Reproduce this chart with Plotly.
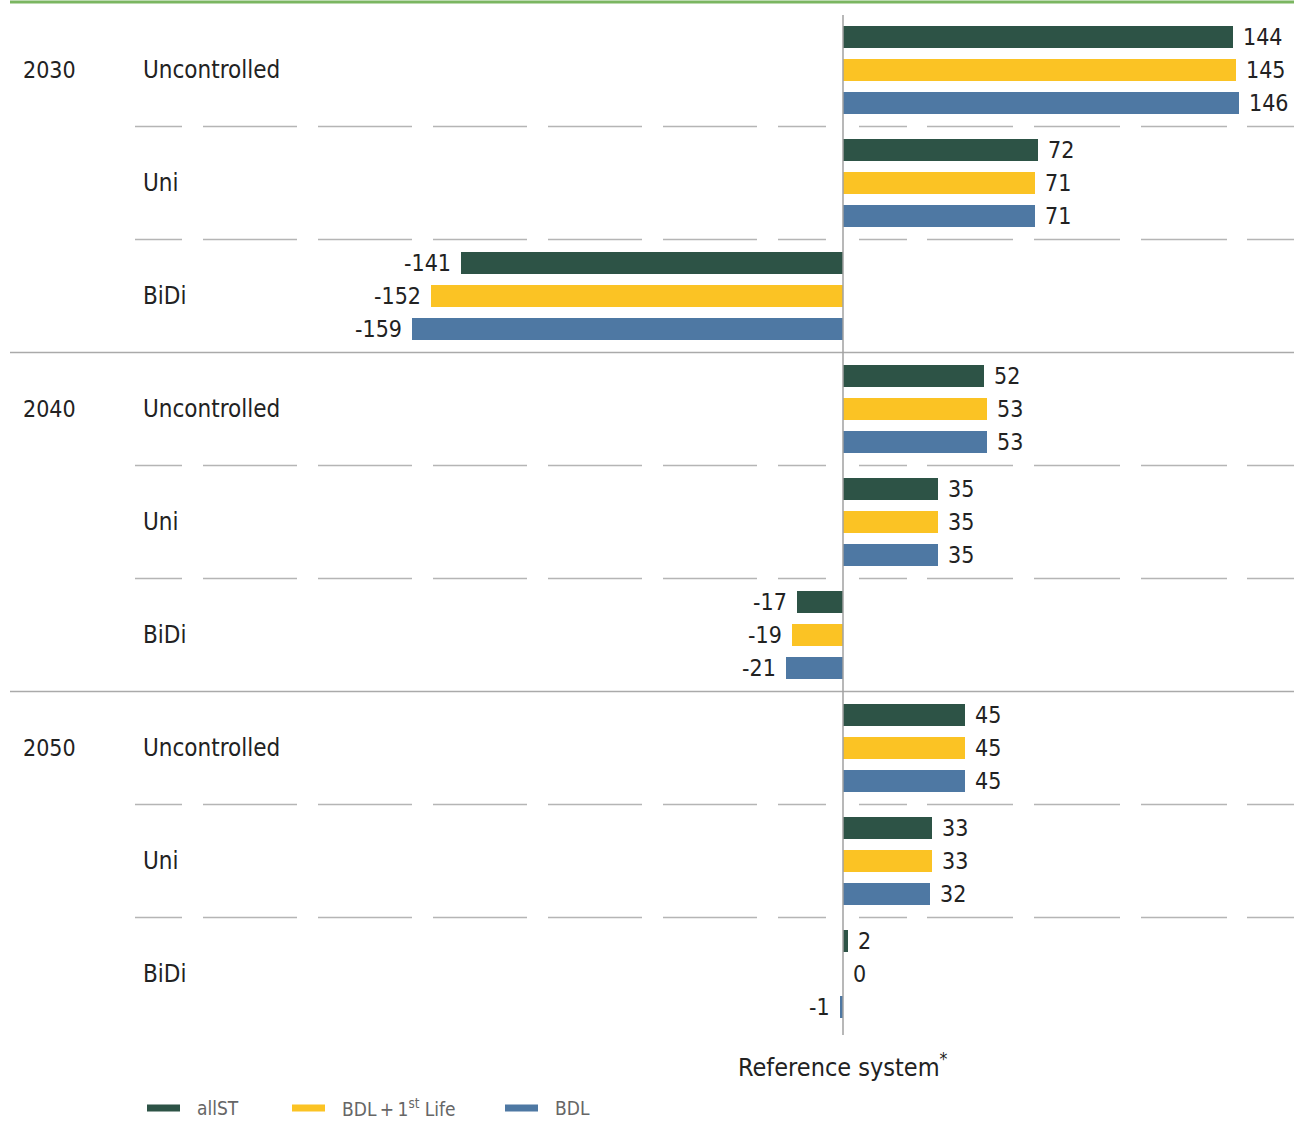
import plotly.graph_objects as go

# ---------------- data ----------------
years = ["2030", "2040", "2050"]
modes = ["Uncontrolled", "Uni", "BiDi"]
series_names = ["allST", "BDL + 1st Life", "BDL"]
allST = [144, 72, -141, 52, 35, -17, 45, 33, 2]
bdl_1st_life = [145, 71, -152, 53, 35, -19, 45, 33, 0]
bdl = [146, 71, -159, 53, 35, -21, 45, 32, -1]
axis_title = "Reference system*"

# ---------------- style ----------------
colors = ["#2d5346", "#fbc324", "#4e78a3"]
W, H = 1294, 1122
ZERO_PX = 843
SCALE = 2.71           # px per unit
GROUP0 = 70            # px centre of first group
GROUP_STEP = 113       # px between groups
BAR_STEP = 33          # px between bars in group
BAR_W = 22
FONT = "DejaVu Sans Condensed, Roboto, sans-serif"
TXT = "#222222"

x_min = -ZERO_PX / SCALE
x_max = (W - ZERO_PX) / SCALE

def px(xpix):
    return xpix / W

fig = go.Figure()
all_series = [allST, bdl_1st_life, bdl]
n_groups = len(years) * len(modes)
annotations = []
for j, (name, vals, col) in enumerate(zip(series_names, all_series, colors)):
    ys = [GROUP0 + g * GROUP_STEP + (j - 1) * BAR_STEP for g in range(n_groups)]
    fig.add_trace(go.Bar(
        x=vals, y=ys, orientation="h", name=name,
        marker=dict(color=col, line=dict(width=0)),
        width=BAR_W, showlegend=False, hoverinfo="x+name",
    ))
    for v, yy in zip(vals, ys):
        neg = v < 0
        annotations.append(dict(
            x=v, y=yy, xref="x", yref="y", text=str(v), showarrow=False,
            xanchor="right" if neg else "left", yanchor="middle",
            xshift=-8 if neg else 8,
            font=dict(family=FONT, size=23, color=TXT),
        ))

# category labels
for yi, yr in enumerate(years):
    for mi, m in enumerate(modes):
        g = yi * len(modes) + mi
        yc = GROUP0 + g * GROUP_STEP
        if mi == 0:
            annotations.append(dict(
                x=px(21), y=yc, xref="paper", yref="y", text=yr, showarrow=False,
                xanchor="left", yanchor="middle",
                font=dict(family=FONT, size=23, color=TXT)))
        annotations.append(dict(
            x=px(141), y=yc, xref="paper", yref="y", text=m, showarrow=False,
            xanchor="left", yanchor="middle",
            font=dict(family=FONT, size=24, color=TXT)))

# axis title
annotations.append(dict(
    x=0, y=1065, xref="x", yref="y", text=axis_title.replace("*", "<sup>*</sup>"),
    showarrow=False, xanchor="center", yanchor="middle",
    font=dict(family=FONT, size=25, color=TXT)))

shapes = []
# top green rule
shapes.append(dict(type="line", xref="paper", yref="y", x0=px(10), x1=1, y0=2, y1=2,
                   line=dict(color="#7bb661", width=3)))
# separators
for g in range(n_groups - 1):
    ysep = GROUP0 + (g + 0.5) * GROUP_STEP
    if (g + 1) % len(modes) == 0:
        shapes.append(dict(type="line", xref="paper", yref="y", x0=px(10), x1=1,
                           y0=ysep, y1=ysep, line=dict(color="#aaaaaa", width=1.5)))
    else:
        shapes.append(dict(type="line", xref="paper", yref="y", x0=px(135), x1=px(826),
                           y0=ysep, y1=ysep,
                           line=dict(color="#b5b5b5", width=1.5,
                                     dash="47px,21px,94px,21px,94px,21px,94px,21px,94px,21px,94px,21px,48px,20px")))
        shapes.append(dict(type="line", xref="paper", yref="y", x0=px(859), x1=1,
                           y0=ysep, y1=ysep,
                           line=dict(color="#b5b5b5", width=1.5,
                                     dash="48px,20px,86px,21px,86px,21px,86px,20px,86px,20px")))
# zero line
shapes.append(dict(type="line", xref="x", yref="y", x0=0, x1=0, y0=15, y1=1035,
                   line=dict(color="#a0a0a0", width=1.5), layer="above"))

# manual legend
legend_x = [147, 292, 505]
legend_labels = ["allST", "BDL\u2009+\u20091<sup>st</sup> Life", "BDL"]
for lx, lab, col in zip(legend_x, legend_labels, colors):
    shapes.append(dict(type="line", xref="paper", yref="y", x0=px(lx), x1=px(lx + 33),
                       y0=1108, y1=1108, line=dict(color=col, width=7)))
    annotations.append(dict(x=px(lx + 48), y=1108, xref="paper", yref="y", text=lab,
                            showarrow=False, xanchor="left", yanchor="middle",
                            font=dict(family=FONT, size=19, color="#666666")))

fig.update_layout(
    width=W, height=H,
    margin=dict(l=0, r=0, t=0, b=0),
    paper_bgcolor="white", plot_bgcolor="white",
    barmode="overlay", bargap=0,
    xaxis=dict(range=[x_min, x_max], visible=False, fixedrange=True),
    yaxis=dict(range=[H, 0], visible=False, fixedrange=True),
    shapes=shapes, annotations=annotations,
    showlegend=False,
)
fig.write_html("out.html")
